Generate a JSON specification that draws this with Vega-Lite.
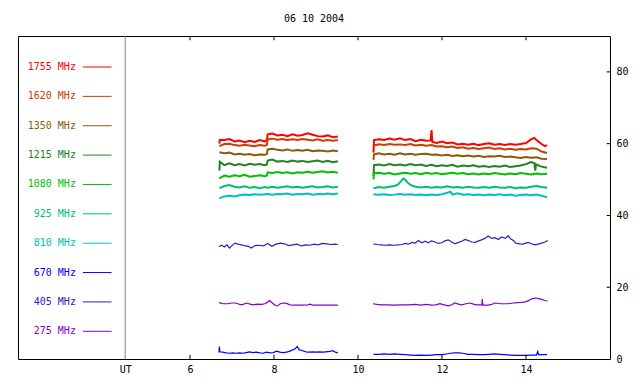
{
"$schema": "https://vega.github.io/schema/vega-lite/v6.json",
"width": 592, "height": 323,
"autosize": {"type": "none"},
"padding": {"left": 18, "top": 36, "right": 30, "bottom": 25},
"title": {"text": "06 10 2004", "font": "DejaVu Sans Mono", "fontSize": 10, "fontWeight": "normal", "color": "black", "offset": 12, "anchor": "middle"},
"config": {"view": {"stroke": "black", "strokeWidth": 1}, "font": "DejaVu Sans Mono", "axis": {"grid": false, "labelFont": "DejaVu Sans Mono", "labelFontSize": 10, "labelColor": "black", "domainColor": "black", "tickColor": "black", "tickWidth": 1}},
"datasets": {
"lg": [
{"f":"1755","label":"1755 MHz"},{"f":"1620","label":"1620 MHz"},{"f":"1350","label":"1350 MHz"},{"f":"1215","label":"1215 MHz"},{"f":"1080","label":"1080 MHz"},{"f":"925","label":"925 MHz"},{"f":"810","label":"810 MHz"},{"f":"670","label":"670 MHz"},{"f":"405","label":"405 MHz"},{"f":"275","label":"275 MHz"}
],
"d": [
{"f":"1755","s":1,"t":6.70,"v":60.0},{"f":"1755","s":1,"t":6.71,"v":61.0},{"f":"1755","s":1,"t":6.82,"v":61.0},{"f":"1755","s":1,"t":6.94,"v":61.3},{"f":"1755","s":1,"t":7.06,"v":60.6},{"f":"1755","s":1,"t":7.18,"v":60.9},{"f":"1755","s":1,"t":7.30,"v":60.4},{"f":"1755","s":1,"t":7.42,"v":60.8},{"f":"1755","s":1,"t":7.54,"v":60.5},{"f":"1755","s":1,"t":7.66,"v":61.0},{"f":"1755","s":1,"t":7.78,"v":60.6},{"f":"1755","s":1,"t":7.83,"v":60.9},{"f":"1755","s":1,"t":7.85,"v":62.6},{"f":"1755","s":1,"t":7.96,"v":62.8},{"f":"1755","s":1,"t":8.08,"v":62.3},{"f":"1755","s":1,"t":8.20,"v":62.5},{"f":"1755","s":1,"t":8.32,"v":62.1},{"f":"1755","s":1,"t":8.44,"v":62.6},{"f":"1755","s":1,"t":8.56,"v":62.2},{"f":"1755","s":1,"t":8.68,"v":62.4},{"f":"1755","s":1,"t":8.80,"v":62.9},{"f":"1755","s":1,"t":8.92,"v":62.5},{"f":"1755","s":1,"t":9.04,"v":62.1},{"f":"1755","s":1,"t":9.16,"v":62.0},{"f":"1755","s":1,"t":9.28,"v":62.3},{"f":"1755","s":1,"t":9.40,"v":61.8},{"f":"1755","s":1,"t":9.52,"v":62.0},
{"f":"1755","s":2,"t":10.37,"v":57.5},{"f":"1755","s":2,"t":10.38,"v":61.0},{"f":"1755","s":2,"t":10.50,"v":61.2},{"f":"1755","s":2,"t":10.62,"v":61.0},{"f":"1755","s":2,"t":10.75,"v":61.4},{"f":"1755","s":2,"t":10.87,"v":61.1},{"f":"1755","s":2,"t":11.00,"v":61.5},{"f":"1755","s":2,"t":11.12,"v":61.0},{"f":"1755","s":2,"t":11.25,"v":61.3},{"f":"1755","s":2,"t":11.37,"v":60.7},{"f":"1755","s":2,"t":11.50,"v":61.1},{"f":"1755","s":2,"t":11.62,"v":60.8},{"f":"1755","s":2,"t":11.73,"v":60.9},{"f":"1755","s":2,"t":11.75,"v":63.8},{"f":"1755","s":2,"t":11.77,"v":60.5},{"f":"1755","s":2,"t":11.87,"v":60.2},{"f":"1755","s":2,"t":12.00,"v":60.6},{"f":"1755","s":2,"t":12.12,"v":60.1},{"f":"1755","s":2,"t":12.25,"v":60.3},{"f":"1755","s":2,"t":12.37,"v":59.8},{"f":"1755","s":2,"t":12.50,"v":60.0},{"f":"1755","s":2,"t":12.62,"v":59.7},{"f":"1755","s":2,"t":12.75,"v":60.0},{"f":"1755","s":2,"t":12.87,"v":59.6},{"f":"1755","s":2,"t":13.00,"v":59.9},{"f":"1755","s":2,"t":13.12,"v":60.1},{"f":"1755","s":2,"t":13.25,"v":59.7},{"f":"1755","s":2,"t":13.37,"v":59.9},{"f":"1755","s":2,"t":13.50,"v":59.6},{"f":"1755","s":2,"t":13.62,"v":59.9},{"f":"1755","s":2,"t":13.75,"v":59.7},{"f":"1755","s":2,"t":13.87,"v":59.9},{"f":"1755","s":2,"t":14.00,"v":60.2},{"f":"1755","s":2,"t":14.12,"v":61.2},{"f":"1755","s":2,"t":14.20,"v":61.6},{"f":"1755","s":2,"t":14.25,"v":61.0},{"f":"1755","s":2,"t":14.37,"v":59.9},{"f":"1755","s":2,"t":14.45,"v":59.3},{"f":"1755","s":2,"t":14.50,"v":59.6},
{"f":"1620","s":1,"t":6.70,"v":59.3},{"f":"1620","s":1,"t":6.82,"v":59.9},{"f":"1620","s":1,"t":6.94,"v":60.0},{"f":"1620","s":1,"t":7.06,"v":59.6},{"f":"1620","s":1,"t":7.18,"v":59.4},{"f":"1620","s":1,"t":7.30,"v":59.7},{"f":"1620","s":1,"t":7.42,"v":59.5},{"f":"1620","s":1,"t":7.54,"v":59.3},{"f":"1620","s":1,"t":7.66,"v":59.6},{"f":"1620","s":1,"t":7.78,"v":59.4},{"f":"1620","s":1,"t":7.83,"v":59.6},{"f":"1620","s":1,"t":7.85,"v":61.2},{"f":"1620","s":1,"t":7.96,"v":61.4},{"f":"1620","s":1,"t":8.08,"v":61.1},{"f":"1620","s":1,"t":8.20,"v":61.3},{"f":"1620","s":1,"t":8.32,"v":61.0},{"f":"1620","s":1,"t":8.44,"v":61.2},{"f":"1620","s":1,"t":8.56,"v":61.0},{"f":"1620","s":1,"t":8.68,"v":61.3},{"f":"1620","s":1,"t":8.80,"v":61.1},{"f":"1620","s":1,"t":8.92,"v":60.9},{"f":"1620","s":1,"t":9.04,"v":61.2},{"f":"1620","s":1,"t":9.16,"v":60.8},{"f":"1620","s":1,"t":9.28,"v":61.0},{"f":"1620","s":1,"t":9.40,"v":60.8},{"f":"1620","s":1,"t":9.52,"v":61.0},
{"f":"1620","s":2,"t":10.37,"v":59.5},{"f":"1620","s":2,"t":10.50,"v":59.8},{"f":"1620","s":2,"t":10.62,"v":59.6},{"f":"1620","s":2,"t":10.75,"v":59.9},{"f":"1620","s":2,"t":10.87,"v":59.7},{"f":"1620","s":2,"t":11.00,"v":59.8},{"f":"1620","s":2,"t":11.12,"v":59.6},{"f":"1620","s":2,"t":11.25,"v":59.9},{"f":"1620","s":2,"t":11.37,"v":59.5},{"f":"1620","s":2,"t":11.50,"v":59.7},{"f":"1620","s":2,"t":11.62,"v":59.4},{"f":"1620","s":2,"t":11.75,"v":59.6},{"f":"1620","s":2,"t":11.87,"v":59.2},{"f":"1620","s":2,"t":12.00,"v":59.3},{"f":"1620","s":2,"t":12.12,"v":59.0},{"f":"1620","s":2,"t":12.25,"v":59.2},{"f":"1620","s":2,"t":12.37,"v":58.8},{"f":"1620","s":2,"t":12.50,"v":59.0},{"f":"1620","s":2,"t":12.62,"v":58.6},{"f":"1620","s":2,"t":12.75,"v":58.8},{"f":"1620","s":2,"t":12.87,"v":58.5},{"f":"1620","s":2,"t":13.00,"v":58.7},{"f":"1620","s":2,"t":13.12,"v":58.9},{"f":"1620","s":2,"t":13.25,"v":58.5},{"f":"1620","s":2,"t":13.37,"v":58.7},{"f":"1620","s":2,"t":13.50,"v":58.4},{"f":"1620","s":2,"t":13.62,"v":58.6},{"f":"1620","s":2,"t":13.75,"v":58.3},{"f":"1620","s":2,"t":13.87,"v":58.5},{"f":"1620","s":2,"t":14.00,"v":58.4},{"f":"1620","s":2,"t":14.12,"v":58.7},{"f":"1620","s":2,"t":14.25,"v":58.6},{"f":"1620","s":2,"t":14.37,"v":57.8},{"f":"1620","s":2,"t":14.50,"v":57.4},
{"f":"1350","s":1,"t":6.70,"v":57.6},{"f":"1350","s":1,"t":6.82,"v":57.3},{"f":"1350","s":1,"t":6.94,"v":57.5},{"f":"1350","s":1,"t":7.06,"v":57.0},{"f":"1350","s":1,"t":7.18,"v":57.2},{"f":"1350","s":1,"t":7.30,"v":56.9},{"f":"1350","s":1,"t":7.42,"v":57.1},{"f":"1350","s":1,"t":7.54,"v":56.8},{"f":"1350","s":1,"t":7.66,"v":57.0},{"f":"1350","s":1,"t":7.78,"v":56.9},{"f":"1350","s":1,"t":7.83,"v":57.1},{"f":"1350","s":1,"t":7.85,"v":58.4},{"f":"1350","s":1,"t":7.96,"v":58.6},{"f":"1350","s":1,"t":8.08,"v":58.3},{"f":"1350","s":1,"t":8.20,"v":58.1},{"f":"1350","s":1,"t":8.32,"v":58.4},{"f":"1350","s":1,"t":8.44,"v":58.0},{"f":"1350","s":1,"t":8.56,"v":58.2},{"f":"1350","s":1,"t":8.68,"v":58.0},{"f":"1350","s":1,"t":8.80,"v":58.3},{"f":"1350","s":1,"t":8.92,"v":57.9},{"f":"1350","s":1,"t":9.04,"v":58.1},{"f":"1350","s":1,"t":9.16,"v":58.0},{"f":"1350","s":1,"t":9.28,"v":57.8},{"f":"1350","s":1,"t":9.40,"v":58.1},{"f":"1350","s":1,"t":9.52,"v":57.9},
{"f":"1350","s":2,"t":10.37,"v":55.5},{"f":"1350","s":2,"t":10.38,"v":57.0},{"f":"1350","s":2,"t":10.50,"v":57.3},{"f":"1350","s":2,"t":10.62,"v":57.0},{"f":"1350","s":2,"t":10.75,"v":57.2},{"f":"1350","s":2,"t":10.87,"v":56.9},{"f":"1350","s":2,"t":11.00,"v":57.3},{"f":"1350","s":2,"t":11.12,"v":57.0},{"f":"1350","s":2,"t":11.25,"v":57.2},{"f":"1350","s":2,"t":11.37,"v":56.9},{"f":"1350","s":2,"t":11.50,"v":57.1},{"f":"1350","s":2,"t":11.62,"v":57.2},{"f":"1350","s":2,"t":11.75,"v":56.9},{"f":"1350","s":2,"t":11.87,"v":57.0},{"f":"1350","s":2,"t":12.00,"v":56.7},{"f":"1350","s":2,"t":12.12,"v":56.9},{"f":"1350","s":2,"t":12.25,"v":56.6},{"f":"1350","s":2,"t":12.37,"v":56.8},{"f":"1350","s":2,"t":12.50,"v":56.5},{"f":"1350","s":2,"t":12.62,"v":56.7},{"f":"1350","s":2,"t":12.75,"v":56.4},{"f":"1350","s":2,"t":12.87,"v":56.6},{"f":"1350","s":2,"t":13.00,"v":56.3},{"f":"1350","s":2,"t":13.12,"v":56.5},{"f":"1350","s":2,"t":13.25,"v":56.4},{"f":"1350","s":2,"t":13.37,"v":56.6},{"f":"1350","s":2,"t":13.50,"v":56.3},{"f":"1350","s":2,"t":13.62,"v":56.4},{"f":"1350","s":2,"t":13.75,"v":56.2},{"f":"1350","s":2,"t":13.87,"v":56.0},{"f":"1350","s":2,"t":14.00,"v":56.3},{"f":"1350","s":2,"t":14.12,"v":56.1},{"f":"1350","s":2,"t":14.25,"v":56.2},{"f":"1350","s":2,"t":14.37,"v":55.8},{"f":"1350","s":2,"t":14.50,"v":55.7},
{"f":"1215","s":1,"t":6.70,"v":52.5},{"f":"1215","s":1,"t":6.71,"v":55.0},{"f":"1215","s":1,"t":6.82,"v":54.0},{"f":"1215","s":1,"t":6.94,"v":54.5},{"f":"1215","s":1,"t":7.06,"v":54.0},{"f":"1215","s":1,"t":7.18,"v":54.3},{"f":"1215","s":1,"t":7.30,"v":53.9},{"f":"1215","s":1,"t":7.42,"v":54.4},{"f":"1215","s":1,"t":7.54,"v":54.1},{"f":"1215","s":1,"t":7.66,"v":54.3},{"f":"1215","s":1,"t":7.78,"v":54.0},{"f":"1215","s":1,"t":7.83,"v":54.2},{"f":"1215","s":1,"t":7.85,"v":55.3},{"f":"1215","s":1,"t":7.96,"v":55.6},{"f":"1215","s":1,"t":8.08,"v":55.0},{"f":"1215","s":1,"t":8.20,"v":55.2},{"f":"1215","s":1,"t":8.32,"v":54.9},{"f":"1215","s":1,"t":8.44,"v":55.3},{"f":"1215","s":1,"t":8.56,"v":55.0},{"f":"1215","s":1,"t":8.68,"v":55.2},{"f":"1215","s":1,"t":8.80,"v":54.9},{"f":"1215","s":1,"t":8.92,"v":55.1},{"f":"1215","s":1,"t":9.04,"v":55.3},{"f":"1215","s":1,"t":9.16,"v":54.9},{"f":"1215","s":1,"t":9.28,"v":55.2},{"f":"1215","s":1,"t":9.40,"v":54.8},{"f":"1215","s":1,"t":9.52,"v":55.1},
{"f":"1215","s":2,"t":10.37,"v":51.0},{"f":"1215","s":2,"t":10.38,"v":54.0},{"f":"1215","s":2,"t":10.50,"v":54.2},{"f":"1215","s":2,"t":10.62,"v":53.9},{"f":"1215","s":2,"t":10.75,"v":54.3},{"f":"1215","s":2,"t":10.87,"v":54.0},{"f":"1215","s":2,"t":11.00,"v":54.2},{"f":"1215","s":2,"t":11.12,"v":53.9},{"f":"1215","s":2,"t":11.25,"v":54.3},{"f":"1215","s":2,"t":11.37,"v":54.0},{"f":"1215","s":2,"t":11.50,"v":54.2},{"f":"1215","s":2,"t":11.62,"v":53.8},{"f":"1215","s":2,"t":11.75,"v":54.1},{"f":"1215","s":2,"t":11.87,"v":53.7},{"f":"1215","s":2,"t":12.00,"v":54.0},{"f":"1215","s":2,"t":12.12,"v":53.8},{"f":"1215","s":2,"t":12.25,"v":54.1},{"f":"1215","s":2,"t":12.37,"v":53.6},{"f":"1215","s":2,"t":12.50,"v":53.9},{"f":"1215","s":2,"t":12.62,"v":53.7},{"f":"1215","s":2,"t":12.75,"v":54.0},{"f":"1215","s":2,"t":12.87,"v":53.6},{"f":"1215","s":2,"t":13.00,"v":53.8},{"f":"1215","s":2,"t":13.12,"v":53.5},{"f":"1215","s":2,"t":13.25,"v":53.8},{"f":"1215","s":2,"t":13.37,"v":53.6},{"f":"1215","s":2,"t":13.50,"v":53.9},{"f":"1215","s":2,"t":13.62,"v":53.5},{"f":"1215","s":2,"t":13.75,"v":53.7},{"f":"1215","s":2,"t":13.87,"v":53.9},{"f":"1215","s":2,"t":14.00,"v":54.3},{"f":"1215","s":2,"t":14.12,"v":54.9},{"f":"1215","s":2,"t":14.20,"v":54.6},{"f":"1215","s":2,"t":14.22,"v":52.5},{"f":"1215","s":2,"t":14.24,"v":54.2},{"f":"1215","s":2,"t":14.37,"v":53.6},{"f":"1215","s":2,"t":14.50,"v":53.3},
{"f":"1080","s":1,"t":6.70,"v":50.3},{"f":"1080","s":1,"t":6.82,"v":51.1},{"f":"1080","s":1,"t":6.94,"v":50.8},{"f":"1080","s":1,"t":7.06,"v":51.2},{"f":"1080","s":1,"t":7.18,"v":50.9},{"f":"1080","s":1,"t":7.30,"v":51.3},{"f":"1080","s":1,"t":7.42,"v":50.8},{"f":"1080","s":1,"t":7.54,"v":51.0},{"f":"1080","s":1,"t":7.66,"v":51.2},{"f":"1080","s":1,"t":7.78,"v":50.9},{"f":"1080","s":1,"t":7.83,"v":51.1},{"f":"1080","s":1,"t":7.85,"v":52.0},{"f":"1080","s":1,"t":7.96,"v":51.8},{"f":"1080","s":1,"t":8.08,"v":52.1},{"f":"1080","s":1,"t":8.20,"v":51.8},{"f":"1080","s":1,"t":8.32,"v":52.0},{"f":"1080","s":1,"t":8.44,"v":51.7},{"f":"1080","s":1,"t":8.56,"v":52.0},{"f":"1080","s":1,"t":8.68,"v":51.9},{"f":"1080","s":1,"t":8.80,"v":52.2},{"f":"1080","s":1,"t":8.92,"v":51.9},{"f":"1080","s":1,"t":9.04,"v":52.1},{"f":"1080","s":1,"t":9.16,"v":52.3},{"f":"1080","s":1,"t":9.28,"v":52.0},{"f":"1080","s":1,"t":9.40,"v":52.2},{"f":"1080","s":1,"t":9.52,"v":51.9},
{"f":"1080","s":2,"t":10.37,"v":50.0},{"f":"1080","s":2,"t":10.38,"v":51.8},{"f":"1080","s":2,"t":10.50,"v":51.9},{"f":"1080","s":2,"t":10.62,"v":51.6},{"f":"1080","s":2,"t":10.75,"v":51.8},{"f":"1080","s":2,"t":10.87,"v":51.4},{"f":"1080","s":2,"t":11.00,"v":51.7},{"f":"1080","s":2,"t":11.12,"v":51.9},{"f":"1080","s":2,"t":11.25,"v":51.6},{"f":"1080","s":2,"t":11.37,"v":51.8},{"f":"1080","s":2,"t":11.50,"v":51.5},{"f":"1080","s":2,"t":11.62,"v":51.9},{"f":"1080","s":2,"t":11.75,"v":51.6},{"f":"1080","s":2,"t":11.87,"v":51.8},{"f":"1080","s":2,"t":12.00,"v":51.5},{"f":"1080","s":2,"t":12.12,"v":51.7},{"f":"1080","s":2,"t":12.25,"v":51.9},{"f":"1080","s":2,"t":12.37,"v":51.6},{"f":"1080","s":2,"t":12.50,"v":51.8},{"f":"1080","s":2,"t":12.62,"v":51.5},{"f":"1080","s":2,"t":12.75,"v":51.7},{"f":"1080","s":2,"t":12.87,"v":51.4},{"f":"1080","s":2,"t":13.00,"v":51.7},{"f":"1080","s":2,"t":13.12,"v":51.5},{"f":"1080","s":2,"t":13.25,"v":51.8},{"f":"1080","s":2,"t":13.37,"v":51.6},{"f":"1080","s":2,"t":13.50,"v":51.4},{"f":"1080","s":2,"t":13.62,"v":51.7},{"f":"1080","s":2,"t":13.75,"v":51.5},{"f":"1080","s":2,"t":13.87,"v":51.8},{"f":"1080","s":2,"t":14.00,"v":51.6},{"f":"1080","s":2,"t":14.12,"v":51.4},{"f":"1080","s":2,"t":14.25,"v":51.7},{"f":"1080","s":2,"t":14.37,"v":51.5},{"f":"1080","s":2,"t":14.50,"v":51.6},
{"f":"925","s":1,"t":6.70,"v":47.6},{"f":"925","s":1,"t":6.82,"v":48.2},{"f":"925","s":1,"t":6.94,"v":48.5},{"f":"925","s":1,"t":7.06,"v":48.0},{"f":"925","s":1,"t":7.18,"v":47.8},{"f":"925","s":1,"t":7.30,"v":48.1},{"f":"925","s":1,"t":7.42,"v":47.7},{"f":"925","s":1,"t":7.54,"v":47.9},{"f":"925","s":1,"t":7.66,"v":47.6},{"f":"925","s":1,"t":7.78,"v":47.9},{"f":"925","s":1,"t":7.85,"v":47.7},{"f":"925","s":1,"t":7.96,"v":48.0},{"f":"925","s":1,"t":8.08,"v":47.7},{"f":"925","s":1,"t":8.20,"v":47.9},{"f":"925","s":1,"t":8.32,"v":48.1},{"f":"925","s":1,"t":8.44,"v":47.8},{"f":"925","s":1,"t":8.56,"v":48.0},{"f":"925","s":1,"t":8.68,"v":47.7},{"f":"925","s":1,"t":8.80,"v":47.9},{"f":"925","s":1,"t":8.92,"v":48.1},{"f":"925","s":1,"t":9.04,"v":47.8},{"f":"925","s":1,"t":9.16,"v":47.9},{"f":"925","s":1,"t":9.28,"v":48.1},{"f":"925","s":1,"t":9.40,"v":47.8},{"f":"925","s":1,"t":9.52,"v":48.0},
{"f":"925","s":2,"t":10.37,"v":47.6},{"f":"925","s":2,"t":10.50,"v":47.9},{"f":"925","s":2,"t":10.62,"v":47.7},{"f":"925","s":2,"t":10.75,"v":48.0},{"f":"925","s":2,"t":10.87,"v":48.2},{"f":"925","s":2,"t":10.95,"v":48.6},{"f":"925","s":2,"t":11.02,"v":49.5},{"f":"925","s":2,"t":11.08,"v":50.3},{"f":"925","s":2,"t":11.12,"v":50.0},{"f":"925","s":2,"t":11.18,"v":49.2},{"f":"925","s":2,"t":11.25,"v":48.5},{"f":"925","s":2,"t":11.37,"v":48.0},{"f":"925","s":2,"t":11.50,"v":47.8},{"f":"925","s":2,"t":11.62,"v":48.0},{"f":"925","s":2,"t":11.75,"v":47.7},{"f":"925","s":2,"t":11.87,"v":47.9},{"f":"925","s":2,"t":12.00,"v":47.8},{"f":"925","s":2,"t":12.12,"v":48.1},{"f":"925","s":2,"t":12.25,"v":47.8},{"f":"925","s":2,"t":12.37,"v":47.9},{"f":"925","s":2,"t":12.50,"v":47.7},{"f":"925","s":2,"t":12.62,"v":48.0},{"f":"925","s":2,"t":12.75,"v":47.8},{"f":"925","s":2,"t":12.87,"v":47.7},{"f":"925","s":2,"t":13.00,"v":47.9},{"f":"925","s":2,"t":13.12,"v":47.7},{"f":"925","s":2,"t":13.25,"v":48.0},{"f":"925","s":2,"t":13.37,"v":47.8},{"f":"925","s":2,"t":13.50,"v":47.7},{"f":"925","s":2,"t":13.62,"v":47.9},{"f":"925","s":2,"t":13.75,"v":47.6},{"f":"925","s":2,"t":13.87,"v":47.8},{"f":"925","s":2,"t":14.00,"v":47.7},{"f":"925","s":2,"t":14.12,"v":48.0},{"f":"925","s":2,"t":14.25,"v":48.2},{"f":"925","s":2,"t":14.37,"v":47.9},{"f":"925","s":2,"t":14.50,"v":47.7},
{"f":"810","s":1,"t":6.70,"v":44.8},{"f":"810","s":1,"t":6.82,"v":45.3},{"f":"810","s":1,"t":6.94,"v":45.5},{"f":"810","s":1,"t":7.06,"v":45.3},{"f":"810","s":1,"t":7.18,"v":45.6},{"f":"810","s":1,"t":7.30,"v":45.8},{"f":"810","s":1,"t":7.42,"v":45.7},{"f":"810","s":1,"t":7.54,"v":45.9},{"f":"810","s":1,"t":7.66,"v":45.8},{"f":"810","s":1,"t":7.78,"v":45.9},{"f":"810","s":1,"t":7.85,"v":46.0},{"f":"810","s":1,"t":7.96,"v":45.8},{"f":"810","s":1,"t":8.08,"v":46.0},{"f":"810","s":1,"t":8.20,"v":45.9},{"f":"810","s":1,"t":8.32,"v":46.1},{"f":"810","s":1,"t":8.44,"v":45.8},{"f":"810","s":1,"t":8.56,"v":46.0},{"f":"810","s":1,"t":8.68,"v":45.9},{"f":"810","s":1,"t":8.80,"v":46.1},{"f":"810","s":1,"t":8.92,"v":45.8},{"f":"810","s":1,"t":9.04,"v":46.0},{"f":"810","s":1,"t":9.16,"v":45.9},{"f":"810","s":1,"t":9.28,"v":46.1},{"f":"810","s":1,"t":9.40,"v":45.9},{"f":"810","s":1,"t":9.52,"v":46.1},
{"f":"810","s":2,"t":10.37,"v":45.9},{"f":"810","s":2,"t":10.50,"v":45.8},{"f":"810","s":2,"t":10.62,"v":45.9},{"f":"810","s":2,"t":10.75,"v":45.7},{"f":"810","s":2,"t":10.87,"v":45.8},{"f":"810","s":2,"t":11.00,"v":46.0},{"f":"810","s":2,"t":11.12,"v":45.8},{"f":"810","s":2,"t":11.25,"v":45.9},{"f":"810","s":2,"t":11.37,"v":45.7},{"f":"810","s":2,"t":11.50,"v":45.8},{"f":"810","s":2,"t":11.62,"v":45.6},{"f":"810","s":2,"t":11.75,"v":45.8},{"f":"810","s":2,"t":11.87,"v":45.7},{"f":"810","s":2,"t":12.00,"v":45.9},{"f":"810","s":2,"t":12.12,"v":46.3},{"f":"810","s":2,"t":12.20,"v":46.6},{"f":"810","s":2,"t":12.25,"v":45.8},{"f":"810","s":2,"t":12.37,"v":46.2},{"f":"810","s":2,"t":12.50,"v":45.8},{"f":"810","s":2,"t":12.62,"v":45.9},{"f":"810","s":2,"t":12.75,"v":45.7},{"f":"810","s":2,"t":12.87,"v":45.8},{"f":"810","s":2,"t":13.00,"v":45.6},{"f":"810","s":2,"t":13.12,"v":45.8},{"f":"810","s":2,"t":13.25,"v":45.7},{"f":"810","s":2,"t":13.37,"v":45.9},{"f":"810","s":2,"t":13.50,"v":45.6},{"f":"810","s":2,"t":13.62,"v":45.8},{"f":"810","s":2,"t":13.75,"v":45.5},{"f":"810","s":2,"t":13.87,"v":45.7},{"f":"810","s":2,"t":14.00,"v":45.8},{"f":"810","s":2,"t":14.12,"v":45.6},{"f":"810","s":2,"t":14.25,"v":45.8},{"f":"810","s":2,"t":14.37,"v":45.5},{"f":"810","s":2,"t":14.45,"v":45.2},{"f":"810","s":2,"t":14.50,"v":45.1},
{"f":"670","s":1,"t":6.69,"v":1.8},{"f":"670","s":1,"t":6.70,"v":3.5},{"f":"670","s":1,"t":6.71,"v":2.0},{"f":"670","s":1,"t":6.78,"v":1.9},{"f":"670","s":1,"t":6.86,"v":1.7},{"f":"670","s":1,"t":6.94,"v":1.6},{"f":"670","s":1,"t":7.02,"v":1.7},{"f":"670","s":1,"t":7.10,"v":1.6},{"f":"670","s":1,"t":7.18,"v":1.7},{"f":"670","s":1,"t":7.26,"v":1.6},{"f":"670","s":1,"t":7.34,"v":1.8},{"f":"670","s":1,"t":7.42,"v":2.0},{"f":"670","s":1,"t":7.50,"v":1.8},{"f":"670","s":1,"t":7.58,"v":1.9},{"f":"670","s":1,"t":7.66,"v":1.7},{"f":"670","s":1,"t":7.74,"v":1.6},{"f":"670","s":1,"t":7.82,"v":1.9},{"f":"670","s":1,"t":7.90,"v":1.7},{"f":"670","s":1,"t":7.98,"v":1.8},{"f":"670","s":1,"t":8.06,"v":2.2},{"f":"670","s":1,"t":8.14,"v":1.9},{"f":"670","s":1,"t":8.22,"v":1.8},{"f":"670","s":1,"t":8.30,"v":1.9},{"f":"670","s":1,"t":8.38,"v":2.2},{"f":"670","s":1,"t":8.46,"v":2.6},{"f":"670","s":1,"t":8.51,"v":2.9},{"f":"670","s":1,"t":8.55,"v":3.5},{"f":"670","s":1,"t":8.60,"v":2.6},{"f":"670","s":1,"t":8.68,"v":2.3},{"f":"670","s":1,"t":8.76,"v":2.0},{"f":"670","s":1,"t":8.84,"v":1.9},{"f":"670","s":1,"t":8.92,"v":2.0},{"f":"670","s":1,"t":9.00,"v":1.9},{"f":"670","s":1,"t":9.08,"v":2.0},{"f":"670","s":1,"t":9.16,"v":1.9},{"f":"670","s":1,"t":9.24,"v":2.0},{"f":"670","s":1,"t":9.32,"v":2.1},{"f":"670","s":1,"t":9.40,"v":2.3},{"f":"670","s":1,"t":9.46,"v":1.9},{"f":"670","s":1,"t":9.52,"v":1.7},
{"f":"670","s":2,"t":10.37,"v":1.3},{"f":"670","s":2,"t":10.50,"v":1.3},{"f":"670","s":2,"t":10.62,"v":1.4},{"f":"670","s":2,"t":10.75,"v":1.3},{"f":"670","s":2,"t":10.87,"v":1.4},{"f":"670","s":2,"t":11.00,"v":1.3},{"f":"670","s":2,"t":11.12,"v":1.2},{"f":"670","s":2,"t":11.25,"v":1.1},{"f":"670","s":2,"t":11.37,"v":1.0},{"f":"670","s":2,"t":11.50,"v":1.1},{"f":"670","s":2,"t":11.62,"v":1.0},{"f":"670","s":2,"t":11.75,"v":1.1},{"f":"670","s":2,"t":11.87,"v":1.2},{"f":"670","s":2,"t":12.00,"v":1.2},{"f":"670","s":2,"t":12.10,"v":1.4},{"f":"670","s":2,"t":12.20,"v":1.6},{"f":"670","s":2,"t":12.30,"v":1.7},{"f":"670","s":2,"t":12.40,"v":1.7},{"f":"670","s":2,"t":12.50,"v":1.6},{"f":"670","s":2,"t":12.62,"v":1.3},{"f":"670","s":2,"t":12.75,"v":1.3},{"f":"670","s":2,"t":12.87,"v":1.2},{"f":"670","s":2,"t":13.00,"v":1.2},{"f":"670","s":2,"t":13.12,"v":1.3},{"f":"670","s":2,"t":13.25,"v":1.4},{"f":"670","s":2,"t":13.37,"v":1.3},{"f":"670","s":2,"t":13.50,"v":1.2},{"f":"670","s":2,"t":13.62,"v":1.1},{"f":"670","s":2,"t":13.75,"v":1.0},{"f":"670","s":2,"t":13.87,"v":1.0},{"f":"670","s":2,"t":14.00,"v":1.0},{"f":"670","s":2,"t":14.12,"v":1.1},{"f":"670","s":2,"t":14.25,"v":1.1},{"f":"670","s":2,"t":14.28,"v":2.1},{"f":"670","s":2,"t":14.30,"v":1.2},{"f":"670","s":2,"t":14.40,"v":1.2},{"f":"670","s":2,"t":14.50,"v":1.2},
{"f":"405","s":1,"t":6.69,"v":31.3},{"f":"405","s":1,"t":6.75,"v":31.7},{"f":"405","s":1,"t":6.82,"v":31.2},{"f":"405","s":1,"t":6.88,"v":31.8},{"f":"405","s":1,"t":6.94,"v":30.9},{"f":"405","s":1,"t":7.00,"v":31.6},{"f":"405","s":1,"t":7.07,"v":32.3},{"f":"405","s":1,"t":7.15,"v":32.0},{"f":"405","s":1,"t":7.22,"v":31.8},{"f":"405","s":1,"t":7.30,"v":31.6},{"f":"405","s":1,"t":7.39,"v":31.4},{"f":"405","s":1,"t":7.46,"v":30.9},{"f":"405","s":1,"t":7.55,"v":31.6},{"f":"405","s":1,"t":7.65,"v":31.7},{"f":"405","s":1,"t":7.75,"v":31.5},{"f":"405","s":1,"t":7.85,"v":32.2},{"f":"405","s":1,"t":7.95,"v":31.4},{"f":"405","s":1,"t":8.05,"v":32.0},{"f":"405","s":1,"t":8.15,"v":32.3},{"f":"405","s":1,"t":8.25,"v":32.1},{"f":"405","s":1,"t":8.35,"v":31.6},{"f":"405","s":1,"t":8.45,"v":31.8},{"f":"405","s":1,"t":8.55,"v":32.0},{"f":"405","s":1,"t":8.65,"v":31.5},{"f":"405","s":1,"t":8.75,"v":31.8},{"f":"405","s":1,"t":8.85,"v":31.7},{"f":"405","s":1,"t":8.95,"v":32.0},{"f":"405","s":1,"t":9.05,"v":31.8},{"f":"405","s":1,"t":9.15,"v":32.2},{"f":"405","s":1,"t":9.25,"v":32.1},{"f":"405","s":1,"t":9.35,"v":31.9},{"f":"405","s":1,"t":9.45,"v":32.0},{"f":"405","s":1,"t":9.52,"v":31.9},
{"f":"405","s":2,"t":10.37,"v":32.1},{"f":"405","s":2,"t":10.45,"v":31.9},{"f":"405","s":2,"t":10.55,"v":31.8},{"f":"405","s":2,"t":10.65,"v":31.7},{"f":"405","s":2,"t":10.75,"v":31.8},{"f":"405","s":2,"t":10.85,"v":31.7},{"f":"405","s":2,"t":10.95,"v":31.8},{"f":"405","s":2,"t":11.05,"v":31.9},{"f":"405","s":2,"t":11.12,"v":32.2},{"f":"405","s":2,"t":11.20,"v":32.0},{"f":"405","s":2,"t":11.28,"v":32.5},{"f":"405","s":2,"t":11.36,"v":32.3},{"f":"405","s":2,"t":11.44,"v":33.0},{"f":"405","s":2,"t":11.52,"v":32.4},{"f":"405","s":2,"t":11.60,"v":32.8},{"f":"405","s":2,"t":11.67,"v":32.4},{"f":"405","s":2,"t":11.75,"v":32.9},{"f":"405","s":2,"t":11.83,"v":32.6},{"f":"405","s":2,"t":11.91,"v":32.2},{"f":"405","s":2,"t":11.99,"v":32.4},{"f":"405","s":2,"t":12.07,"v":32.9},{"f":"405","s":2,"t":12.15,"v":33.2},{"f":"405","s":2,"t":12.23,"v":32.6},{"f":"405","s":2,"t":12.31,"v":32.1},{"f":"405","s":2,"t":12.39,"v":32.5},{"f":"405","s":2,"t":12.47,"v":32.8},{"f":"405","s":2,"t":12.55,"v":33.3},{"f":"405","s":2,"t":12.63,"v":33.0},{"f":"405","s":2,"t":12.71,"v":32.6},{"f":"405","s":2,"t":12.79,"v":32.5},{"f":"405","s":2,"t":12.87,"v":32.9},{"f":"405","s":2,"t":12.94,"v":33.2},{"f":"405","s":2,"t":13.02,"v":33.6},{"f":"405","s":2,"t":13.10,"v":34.3},{"f":"405","s":2,"t":13.18,"v":33.6},{"f":"405","s":2,"t":13.26,"v":33.8},{"f":"405","s":2,"t":13.34,"v":33.3},{"f":"405","s":2,"t":13.42,"v":34.0},{"f":"405","s":2,"t":13.50,"v":33.6},{"f":"405","s":2,"t":13.58,"v":34.3},{"f":"405","s":2,"t":13.64,"v":33.4},{"f":"405","s":2,"t":13.70,"v":33.0},{"f":"405","s":2,"t":13.76,"v":32.3},{"f":"405","s":2,"t":13.84,"v":32.1},{"f":"405","s":2,"t":13.92,"v":32.0},{"f":"405","s":2,"t":14.00,"v":32.3},{"f":"405","s":2,"t":14.05,"v":32.5},{"f":"405","s":2,"t":14.13,"v":32.1},{"f":"405","s":2,"t":14.21,"v":31.8},{"f":"405","s":2,"t":14.29,"v":32.0},{"f":"405","s":2,"t":14.37,"v":32.3},{"f":"405","s":2,"t":14.45,"v":32.6},{"f":"405","s":2,"t":14.52,"v":33.0},
{"f":"275","s":1,"t":6.69,"v":15.7},{"f":"275","s":1,"t":6.79,"v":15.4},{"f":"275","s":1,"t":6.91,"v":15.4},{"f":"275","s":1,"t":6.99,"v":15.6},{"f":"275","s":1,"t":7.07,"v":15.6},{"f":"275","s":1,"t":7.14,"v":15.4},{"f":"275","s":1,"t":7.21,"v":15.1},{"f":"275","s":1,"t":7.28,"v":15.3},{"f":"275","s":1,"t":7.35,"v":15.6},{"f":"275","s":1,"t":7.43,"v":15.3},{"f":"275","s":1,"t":7.51,"v":15.1},{"f":"275","s":1,"t":7.60,"v":15.3},{"f":"275","s":1,"t":7.71,"v":15.2},{"f":"275","s":1,"t":7.78,"v":15.4},{"f":"275","s":1,"t":7.83,"v":15.7},{"f":"275","s":1,"t":7.89,"v":16.3},{"f":"275","s":1,"t":7.94,"v":15.8},{"f":"275","s":1,"t":7.98,"v":15.4},{"f":"275","s":1,"t":8.04,"v":14.9},{"f":"275","s":1,"t":8.08,"v":14.8},{"f":"275","s":1,"t":8.15,"v":15.4},{"f":"275","s":1,"t":8.22,"v":15.6},{"f":"275","s":1,"t":8.30,"v":15.5},{"f":"275","s":1,"t":8.38,"v":15.1},{"f":"275","s":1,"t":8.50,"v":15.0},{"f":"275","s":1,"t":8.65,"v":15.0},{"f":"275","s":1,"t":8.80,"v":15.1},{"f":"275","s":1,"t":8.86,"v":15.3},{"f":"275","s":1,"t":8.92,"v":15.0},{"f":"275","s":1,"t":9.10,"v":15.0},{"f":"275","s":1,"t":9.30,"v":15.0},{"f":"275","s":1,"t":9.52,"v":15.0},
{"f":"275","s":2,"t":10.36,"v":15.4},{"f":"275","s":2,"t":10.45,"v":15.2},{"f":"275","s":2,"t":10.55,"v":15.1},{"f":"275","s":2,"t":10.70,"v":15.1},{"f":"275","s":2,"t":10.85,"v":15.0},{"f":"275","s":2,"t":11.04,"v":15.1},{"f":"275","s":2,"t":11.20,"v":15.1},{"f":"275","s":2,"t":11.36,"v":15.2},{"f":"275","s":2,"t":11.50,"v":15.0},{"f":"275","s":2,"t":11.62,"v":15.2},{"f":"275","s":2,"t":11.75,"v":15.0},{"f":"275","s":2,"t":11.85,"v":15.1},{"f":"275","s":2,"t":11.95,"v":15.4},{"f":"275","s":2,"t":12.05,"v":15.1},{"f":"275","s":2,"t":12.15,"v":14.8},{"f":"275","s":2,"t":12.23,"v":15.1},{"f":"275","s":2,"t":12.31,"v":15.6},{"f":"275","s":2,"t":12.39,"v":15.3},{"f":"275","s":2,"t":12.47,"v":15.1},{"f":"275","s":2,"t":12.57,"v":15.4},{"f":"275","s":2,"t":12.67,"v":15.6},{"f":"275","s":2,"t":12.75,"v":15.3},{"f":"275","s":2,"t":12.82,"v":15.1},{"f":"275","s":2,"t":12.95,"v":15.1},{"f":"275","s":2,"t":12.96,"v":16.7},{"f":"275","s":2,"t":12.97,"v":15.0},{"f":"275","s":2,"t":13.10,"v":15.0},{"f":"275","s":2,"t":13.18,"v":15.2},{"f":"275","s":2,"t":13.26,"v":15.6},{"f":"275","s":2,"t":13.40,"v":15.4},{"f":"275","s":2,"t":13.58,"v":15.4},{"f":"275","s":2,"t":13.70,"v":15.6},{"f":"275","s":2,"t":13.78,"v":15.7},{"f":"275","s":2,"t":13.90,"v":15.8},{"f":"275","s":2,"t":13.98,"v":15.9},{"f":"275","s":2,"t":14.05,"v":16.2},{"f":"275","s":2,"t":14.10,"v":16.6},{"f":"275","s":2,"t":14.18,"v":16.9},{"f":"275","s":2,"t":14.23,"v":17.0},{"f":"275","s":2,"t":14.30,"v":16.8},{"f":"275","s":2,"t":14.37,"v":16.6},{"f":"275","s":2,"t":14.45,"v":16.3},{"f":"275","s":2,"t":14.51,"v":16.2}
],
"ticks": [{"t":6},{"t":8},{"t":10},{"t":12},{"t":14}],
"yticks": [{"v":20},{"v":40},{"v":60},{"v":80}]
},
"layer": [
{
"data": {"name": "d"},
"mark": {"type": "line", "interpolate": "linear"},
"encoding": {
"x": {"field": "t", "type": "quantitative", "scale": {"domain": [1.905, 16], "nice": false, "zero": false},
"axis": {"orient": "bottom", "values": [4.457, 6, 8, 10, 12, 14], "labelExpr": "datum.value < 5 ? 'UT' : datum.label", "ticks": false, "labelPadding": 5, "domain": false, "title": null, "labelFlush": false, "labelOverlap": false}},
"y": {"field": "v", "type": "quantitative", "scale": {"domain": [0, 90], "nice": false, "zero": false},
"axis": {"orient": "right", "values": [0, 20, 40, 60, 80], "ticks": false, "labelPadding": 6, "domain": false, "title": null, "labelFlush": false, "labelOverlap": false}},
"color": {"field": "f", "type": "nominal", "legend": null,
"scale": {"domain": ["1755","1620","1350","1215","1080","925","810","670","405","275"], "range": ["#ff0000","#c84000","#8c5a0a","#238023","#00c000","#00c070","#00c0c0","#0000ff","#2424c0","#8000c8"]}},
"strokeWidth": {"condition": {"test": "datum.f == '405' || datum.f == '275' || datum.f == '670'", "value": 1.2}, "value": 2},
"detail": {"field": "s", "type": "nominal"}
}
},
{
"data": {"name": "ticks"},
"mark": {"type": "rule", "color": "black", "strokeWidth": 1},
"encoding": {
"x": {"field": "t", "type": "quantitative", "axis": null},
"y": {"datum": 0, "type": "quantitative", "scale": {"domain": [0, 90], "nice": false, "zero": false}, "axis": null},
"y2": {"datum": 1.2}
}
},
{
"data": {"name": "ticks"},
"mark": {"type": "rule", "color": "black", "strokeWidth": 1},
"encoding": {
"x": {"field": "t", "type": "quantitative", "axis": null},
"y": {"datum": 90, "type": "quantitative", "scale": {"domain": [0, 90], "nice": false, "zero": false}, "axis": null},
"y2": {"datum": 88.8}
}
},
{
"data": {"name": "yticks"},
"mark": {"type": "rule", "color": "black", "strokeWidth": 1},
"encoding": {
"y": {"field": "v", "type": "quantitative", "scale": {"domain": [0, 90], "nice": false, "zero": false}, "axis": null},
"x": {"datum": 16, "type": "quantitative", "axis": null},
"x2": {"datum": 15.92}
}
},
{
"data": {"values": [{}]},
"mark": {"type": "rule", "color": "#808080", "strokeWidth": 1},
"encoding": {
"x": {"datum": 4.457, "type": "quantitative", "scale": {"domain": [1.905, 16], "nice": false, "zero": false}, "axis": null}
}
},
{
"data": {"name": "lg"},
"encoding": {
"y": {"field": "f", "type": "nominal", "axis": null, "sort": null,
"scale": {"type": "point", "domain": ["1755","1620","1350","1215","1080","925","810","670","405","275"], "padding": 1.027, "align": 0.528}},
"color": {"field": "f", "type": "nominal", "legend": null}
},
"layer": [
{"mark": {"type": "text", "align": "right", "baseline": "middle", "font": "DejaVu Sans Mono", "fontSize": 10},
 "encoding": {"x": {"datum": 3.284, "type": "quantitative", "axis": null}, "text": {"field": "label"}}},
{"mark": {"type": "rule", "strokeWidth": 1},
 "encoding": {"x": {"datum": 3.45, "type": "quantitative", "axis": null}, "x2": {"datum": 4.134}}}
]
}
],
"resolve": {"scale": {"y": "independent"}, "axis": {"x": "independent", "y": "independent"}}
}
